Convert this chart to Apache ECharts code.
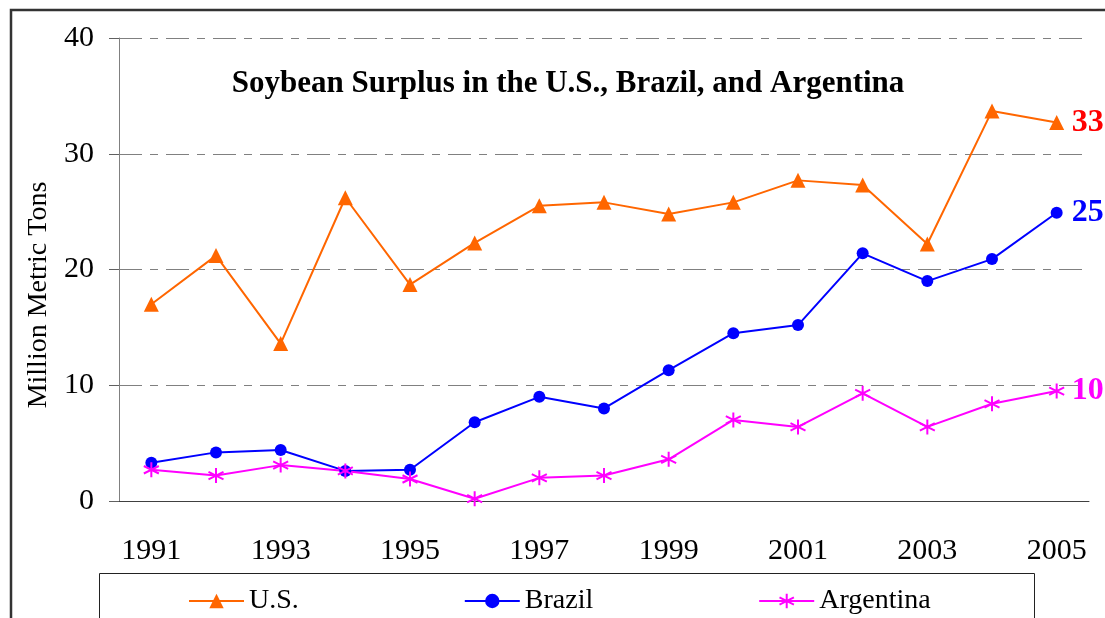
<!DOCTYPE html>
<html>
<head>
<meta charset="utf-8">
<script src="https://cdn.jsdelivr.net/npm/echarts@6/dist/echarts.min.js"></script>
<style>
  html, body { margin: 0; padding: 0; background: #fff; }
  #chart { width: 1105px; height: 618px; }
</style>
</head>
<body>
<div id="chart"></div>
<script>
const years = ['1991', '1992', '1993', '1994', '1995', '1996', '1997', '1998',
  '1999', '2000', '2001', '2002', '2003', '2004', '2005'];
const usValues = [17.0, 21.2, 13.6, 26.2, 18.7, 22.3, 25.5, 25.8, 24.8, 25.8, 27.7, 27.3, 22.2, 33.7, 32.7];
const brazilValues = [3.3, 4.2, 4.4, 2.6, 2.7, 6.8, 9.0, 8.0, 11.3, 14.5, 15.2, 21.4, 19.0, 20.9, 24.9];
const argentinaValues = [2.7, 2.2, 3.1, 2.6, 1.9, 0.2, 2.0, 2.2, 3.6, 7.0, 6.4, 9.3, 6.4, 8.4, 9.5];
const seriesNames = ['U.S.', 'Brazil', 'Argentina'];
const endLabels = ['33', '25', '10'];
const yTicks = [0, 10, 20, 30, 40];

const serif = '"Liberation Serif", "Times New Roman", serif';
const asterisk = 'path://M0,-1L0,1M-0.866,-0.5L0.866,0.5M-0.866,0.5L0.866,-0.5';

const chart = echarts.init(document.getElementById('chart'));

function makeSeries(name, data, color, labelColor, labelText, symbol, size) {
  return {
    name: name,
    type: 'line',
    data: data,
    symbol: symbol,
    symbolSize: size,
    lineStyle: { color: color, width: 2 },
    itemStyle: { color: color, borderColor: color, borderWidth: symbol === asterisk ? 2 : 0 },
    animation: false,
    endLabel: {
      show: true,
      formatter: () => labelText,
      color: labelColor,
      fontFamily: serif,
      fontSize: 32,
      fontWeight: 'bold',
      distance: 15
    }
  };
}

chart.setOption({
  animation: false,
  title: {
    text: 'Soybean Surplus in the U.S., Brazil, and Argentina',
    left: 563,
    top: 63,
    textAlign: 'center',
    textStyle: { fontFamily: serif, fontSize: 31, fontWeight: 'bold', color: '#000' }
  },
  grid: { left: 119, right: 16, top: 38, bottom: 117 },
  legend: {
    left: 188,
    top: 587,
    padding: 0,
    itemGap: 165,
    itemWidth: 55,
    itemHeight: 18,
    data: seriesNames,
    lineStyle: { width: 2 },
    textStyle: { fontFamily: serif, fontSize: 28, color: '#000' }
  },
  xAxis: {
    type: 'category',
    data: years,
    boundaryGap: true,
    axisLine: { lineStyle: { color: '#404040', width: 1 } },
    axisTick: { interval: 0, length: 10, lineStyle: { color: '#404040' } },
    axisLabel: { interval: 1, margin: 35, fontFamily: serif, fontSize: 30, color: '#000' }
  },
  yAxis: {
    type: 'value',
    min: yTicks[0],
    max: yTicks[yTicks.length - 1],
    interval: 10,
    axisLine: { show: true, lineStyle: { color: '#808080', width: 1 } },
    axisTick: { show: true, length: 10, lineStyle: { color: '#606060' } },
    axisLabel: { margin: 25, fontFamily: serif, fontSize: 30, color: '#000' },
    splitLine: { lineStyle: { color: '#808080', width: 1, type: [23, 8, 8, 8] } }
  },
  graphic: [
    {
      type: 'rect',
      shape: { x: 11, y: 10, width: 1200, height: 700 },
      style: { fill: 'none', stroke: '#333', lineWidth: 2.5 },
      silent: true
    },
    {
      type: 'rect',
      shape: { x: 99.5, y: 573.5, width: 935, height: 100 },
      style: { fill: 'none', stroke: '#222', lineWidth: 1 },
      silent: true
    },
    {
      type: 'text',
      x: 39,
      y: 295,
      rotation: Math.PI / 2,
      style: {
        text: 'Million Metric Tons',
        fontFamily: serif,
        fontSize: 28,
        fill: '#000',
        textAlign: 'center',
        textVerticalAlign: 'middle'
      },
      silent: true
    }
  ],
  series: [
    makeSeries(seriesNames[0], usValues, '#FF6600', '#FF0000', endLabels[0], 'triangle', 15),
    makeSeries(seriesNames[1], brazilValues, '#0000FF', '#0000FF', endLabels[1], 'circle', 12),
    makeSeries(seriesNames[2], argentinaValues, '#FF00FF', '#FF00FF', endLabels[2], asterisk, 15)
  ]
});
</script>
</body>
</html>
